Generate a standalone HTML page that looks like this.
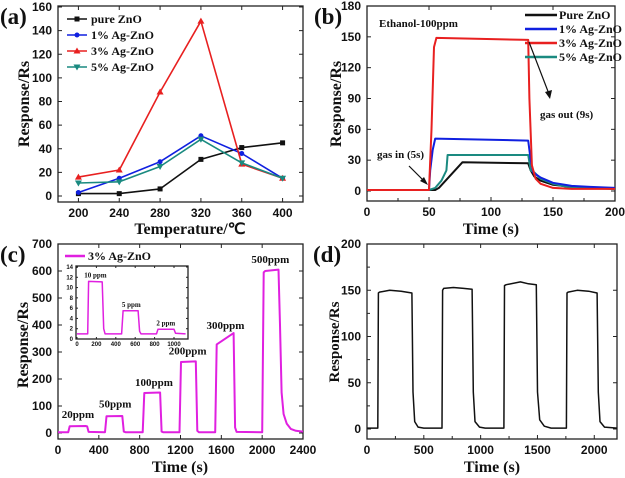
<!DOCTYPE html>
<html><head><meta charset="utf-8"><style>
html,body{margin:0;padding:0;background:#fff;width:625px;height:478px;overflow:hidden}
svg{display:block}
.tk{font:bold 12px "Liberation Sans",sans-serif;fill:#111}
.ttl{font:bold 16px "Liberation Serif",serif;fill:#111}
.lg{font:bold 12px "Liberation Serif",serif;fill:#111}
.pl{font:bold 23px "Liberation Serif",serif;fill:#111}
.an{font:bold 11px "Liberation Serif",serif;fill:#111}
.itk{font:bold 6px "Liberation Sans",sans-serif;fill:#111}
.ian{font:bold 7px "Liberation Serif",serif;fill:#111}
</style></head><body>
<svg id="fig" width="625" height="478" viewBox="0 0 625 478" xmlns="http://www.w3.org/2000/svg"></svg>
<script>
// Panel (a)
const aTemps=[200,240,280,320,360,400];
const aPure=[2,2,6,31,41,45];
const a1=[3,15,29,51,36,15];
const a3=[16,22,88,148,27,15];
const a5=[11,12,25,48,28,15];
const aYTicks=[0,20,40,60,80,100,120,140,160];
// Panel (b)
const bPureT=[0,50,55,58,77,130,132,135,140,150,165,180,200];
const bPureV=[1,1,1,3,28,27,20,14,10,6,4,3,2];
const b1T=[0,50,51,53,55,130,132,134,140,150,165,180,200];
const b1V=[1,1,20,40,51,49,30,18,13,8,5,4,3];
const b3T=[0,50,52,54,56,130,131,133,136,140,150,165,200];
const b3V=[1,1,60,140,149,147,90,25,12,7,3,2,2];
const b5T=[0,50,55,60,64,65,130,132,135,140,150,165,200];
const b5V=[1,1,3,10,20,35,35,20,18,12,7,3,2];
const bYTicks=[0,30,60,90,120,150,180];
const bXTicks=[0,50,100,150,200];
// Panel (c)
const cT=[0,100,115,270,285,300,460,475,630,645,660,830,845,1000,1015,1030,1190,1205,1350,1365,1380,1540,1555,1720,1735,1750,2000,2015,2030,2160,2175,2190,2210,2240,2280,2330,2400];
const cV=[3,3,25,26,25,4,3,62,63,5,3,3,148,150,5,3,3,263,265,8,3,3,328,370,20,4,3,595,600,605,400,150,70,35,15,8,5];
const cYTicks=[0,100,200,300,400,500,600,700];
const cXTicks=[0,400,800,1200,1600,2000,2400];
const cLabels=["20ppm","50ppm","100ppm","200ppm","300ppm","500ppm"];
const cLabelT=[195,560,940,1270,1640,2080];
const cLabelV=[55,95,175,290,385,630];
const iT=[0,110,120,260,275,290,460,475,630,645,660,820,835,1000,1015,1120];
const iV=[1,1,11.2,11.1,2,1,1,5.5,5.5,1.5,1,1,1.9,1.9,1.1,1];
const iYTicks=[0,2,4,6,8,10,12,14];
const iXTicks=[0,200,400,600,800,1000];
const iLabels=["10 ppm","5 ppm","2 ppm"];
const iLabelT=[190,560,915];
const iLabelV=[12,6.2,2.6];
// Panel (d)
const dT=[0,95,100,110,200,300,395,405,420,450,500,660,665,675,760,850,925,935,950,990,1040,1205,1210,1225,1350,1420,1490,1500,1520,1560,1620,1755,1760,1770,1850,1950,2025,2035,2050,2090,2200];
const dV=[1,1,147,148,150,149,147,40,8,2,1,1,150,152,153,152,151,40,8,2,1,1,155,156,159,157,156,40,10,3,1,1,147,148,150,149,147,40,8,2,1];
const dYTicks=[0,50,100,150,200];
const dXTicks=[0,500,1000,1500,2000];

const NS="http://www.w3.org/2000/svg";
const svg=document.getElementById('fig');
function mk(tag,at,parent){const e=document.createElementNS(NS,tag);for(const k in at)e.setAttribute(k,at[k]);(parent||svg).appendChild(e);return e;}
function txt(s,x,y,cls,anchor,parent){const t=mk('text',{x:x,y:y,class:cls,'text-anchor':anchor||'middle'},parent);t.textContent=s;return t;}
function scale(d0,d1,p0,p1){return v=>p0+(v-d0)/(d1-d0)*(p1-p0);}
function axes(box,xs,ys,xt,yt,cls,tl){
  const [L,T,R,B]=box;
  const r=mk('rect',{x:L,y:T,width:R-L,height:B-T,fill:'none',stroke:'#222','stroke-width':1.3});
  
  
  yt.forEach(v=>{const y=ys(v);mk('line',{x1:L,x2:L+tl,y1:y,y2:y,stroke:'#222'});mk('line',{x1:R,x2:R-tl,y1:y,y2:y,stroke:'#222'});
    const t=txt(String(v),L-(cls=='itk'?3:6),y+(cls=='itk'?2:4),cls,'end');
    
    });
  xt.forEach(v=>{const x=xs(v);mk('line',{x1:x,x2:x,y1:B,y2:B-tl,stroke:'#222'});mk('line',{x1:x,x2:x,y1:T,y2:T+tl,stroke:'#222'});
    const t=txt(String(v),x,B+(cls=='itk'?7:15),cls);
    
    });
}
function line(tx,vy,xs,ys,color,w,name){
  const p=tx.map((t,i)=>xs(t).toFixed(1)+','+ys(vy[i]).toFixed(1)).join(' ');
  const e=mk('polyline',{points:p,fill:'none',stroke:color,'stroke-width':w,'stroke-linejoin':'round'});
  
  
  return e;
}
function marker(type,x,y,c,s){
  if(type=='sq')return mk('rect',{x:x-s,y:y-s,width:2*s,height:2*s,fill:c});
  if(type=='ci')return mk('circle',{cx:x,cy:y,r:s,fill:c});
  if(type=='up')return mk('polygon',{points:`${x},${y-s-1} ${x-s-1},${y+s} ${x+s+1},${y+s}`,fill:c});
  return mk('polygon',{points:`${x},${y+s+1} ${x-s-1},${y-s} ${x+s+1},${y-s}`,fill:c});
}
function ylabel(s,x,y,cls){const t=txt(s,x,y,cls);t.setAttribute('transform',`rotate(-90 ${x} ${y})`);}
function xlabel(s,x,y){const t=txt(s,x,y,'ttl');}
function plabel(s,x,y){const t=txt(s,x,y,'pl','start');}

// ---- (a)
{const xs=scale(180,420,58,303),ys=scale(0,160,196,7);
axes([58,6,303,202],xs,ys,aTemps,aYTicks,'tk',4);
const ser=[[aPure,'#111','sq','pure ZnO'],[a1,'#1020e0','ci','1% Ag-ZnO'],[a3,'#e82020','up','3% Ag-ZnO'],[a5,'#1a8a80','dn','5% Ag-ZnO']];
ser.forEach((s,k)=>{line(aTemps,s[0],xs,ys,s[1],1.6,'series-line');
  s[0].forEach((v,i)=>{const m=marker(s[2],xs(aTemps[i]),ys(v),s[1],2.5);});
  const ly=19+k*16;mk('line',{x1:67,x2:87,y1:ly,y2:ly,stroke:s[1],'stroke-width':1.6});marker(s[2],77,ly,s[1],2.5);
  const t=txt(s[3],91,ly+4,'lg','start');});
ylabel('Response/Rs',29,104,'ttl');xlabel('Temperature/℃',190,234);plabel('(a)',0,24);}

// ---- (b)
{const xs=scale(0,200,367,615),ys=scale(0,180,191,6);
axes([367,6,615,201],xs,ys,bXTicks,bYTicks,'tk',4);
[25,75,125,175].forEach(v=>mk('line',{x1:xs(v),x2:xs(v),y1:201,y2:198,stroke:'#222'}));
const ser=[[bPureT,bPureV,'#111','Pure ZnO'],[b5T,b5V,'#1a8a80','5% Ag-ZnO'],[b1T,b1V,'#1020e0','1% Ag-ZnO'],[b3T,b3V,'#e82020','3% Ag-ZnO']];
ser.forEach(s=>line(s[0],s[1],xs,ys,s[2],2,'series-line'));
[['Pure ZnO','#111'],['1% Ag-ZnO','#1020e0'],['3% Ag-ZnO','#e82020'],['5% Ag-ZnO','#1a8a80']].forEach((s,k)=>{const ly=15+k*14;
  mk('line',{x1:525,x2:557,y1:ly,y2:ly,stroke:s[1],'stroke-width':2.5});
  const t=txt(s[0],559,ly+4,'lg','start');});
txt('Ethanol-100ppm',379,27,'an','start');
txt('gas in (5s)',377,158,'an','start');
txt('gas out (9s)',540,118,'an','start');
mk('line',{x1:409,y1:166,x2:425,y2:182,stroke:'#111','stroke-width':1.2});
mk('polygon',{points:'428,185 420,181 424,177',fill:'#111'});
mk('line',{x1:529,y1:42,x2:549,y2:94,stroke:'#111','stroke-width':1.2});
mk('polygon',{points:'550,99 545,92 552,90',fill:'#111'});
ylabel('Response/Rs',341,104,'ttl');xlabel('Time (s)',491,234);plabel('(b)',314,24);}

// ---- (c)
{const xs=scale(0,2400,58,303),ys=scale(0,700,433,244);
axes([58,244,303,439],xs,ys,cXTicks,cYTicks,'tk',4);
mk('rect',{x:76,y:266,width:112,height:73,fill:'#fff'});
line(cT,cV,xs,ys,'#e020e0',2,'series-line');
cLabels.forEach((s,i)=>{const t=txt(s,xs(cLabelT[i]),ys(cLabelV[i]),'an');});
mk('line',{x1:65,x2:85,y1:256,y2:256,stroke:'#e020e0','stroke-width':2.5});
const lt=txt('3% Ag-ZnO',88,260,'lg','start');
const ixs=scale(0,1000,77,174),iys=scale(0,14,339,267);
axes([76,266,188,339],ixs,iys,iXTicks,iYTicks,'itk',2);
line(iT,iV,ixs,iys,'#e020e0',1.5,'inset-line');
iLabels.forEach((s,i)=>txt(s,ixs(iLabelT[i]),iys(iLabelV[i]),'ian'));
ylabel('Response/Rs',28,345,'ttl');xlabel('Time (s)',180,472);plabel('(c)',0,262);}

// ---- (d)
{const xs=scale(0,2200,367,617),ys=scale(0,200,429,244);
axes([367,244,617,439],xs,ys,dXTicks,dYTicks,'tk',4);
[250,750,1250,1750].forEach(v=>mk('line',{x1:xs(v),x2:xs(v),y1:439,y2:436,stroke:'#222'}));
[25,75,125,175].forEach(v=>mk('line',{x1:367,x2:370,y1:ys(v),y2:ys(v),stroke:'#222'}));
line(dT,dV,xs,ys,'#111',1.5,'series-line');
ylabel('Response/Rs',339,342,'an');
document.querySelectorAll('text').forEach(t=>{if(t.textContent=='Response/Rs'&&t.getAttribute('x')=='339')t.setAttribute('style','font-size:15px');});
xlabel('Time (s)',492,472);plabel('(d)',313,262);}
</script>
</body></html>
